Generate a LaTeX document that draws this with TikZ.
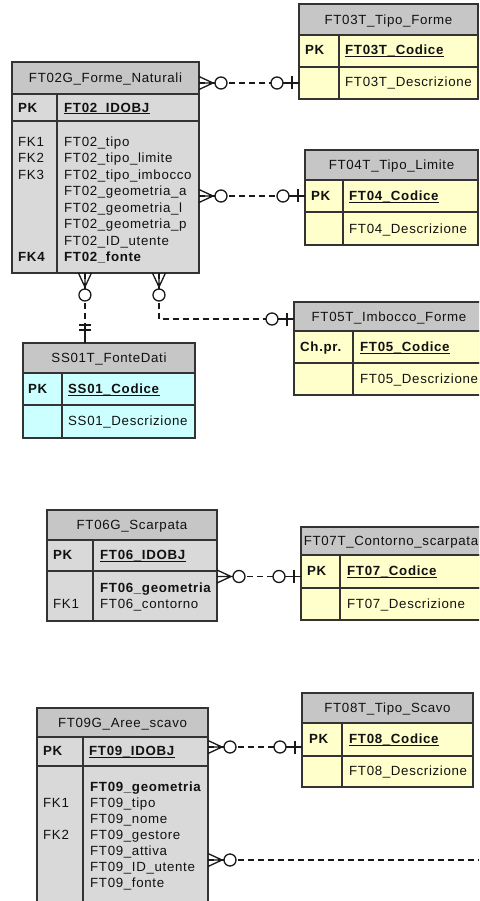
\documentclass[tikz,border=0pt]{standalone}
\usepackage{fontspec}
\setmainfont{Liberation Sans}[LetterSpace=5]
\usetikzlibrary{calc}
\definecolor{hdrgray}{HTML}{C6C6C6}
\definecolor{bodygray}{HTML}{D9D9D9}
\definecolor{lyellow}{HTML}{FFFFCC}
\definecolor{lcyan}{HTML}{CCFFFF}
\definecolor{ink}{HTML}{111111}
\definecolor{frameclr}{HTML}{333333}
\newcommand\ulbf[1]{\setbox0=\hbox{\textbf{#1}}\rlap{\rule[-2pt]{\wd0}{0.8pt}}\box0}
% name x1 y1 x2 y2(header bottom) y3(pk bottom) y4(bottom) xd(divider) fill
\newcommand\erframe[9]{%
  \node[cell, fill=hdrgray, minimum width={#4-#2}, minimum height={#5-#3}, anchor=north west] (#1h) at (#2,-#3) {};
  \node[cell, fill=#9, minimum width={#4-#2}, minimum height={#6-#5}, anchor=north west] (#1k) at (#2,-#5) {};
  \node[cell, fill=#9, minimum width={#4-#2}, minimum height={#7-#6}, anchor=north west] (#1b) at (#2,-#6) {};
  \draw[framel] (#8,-#5) -- (#8,-#7);
}
\tikzset{
  cell/.style={draw=frameclr, line width=1.3pt, inner sep=0pt, outer sep=0pt},
  framel/.style={draw=frameclr, line width=1.3pt},
  txt/.style={anchor=base west, inner sep=0pt, yshift=-4.6pt, text=ink},
  ttl/.style={anchor=base, inner sep=0pt, yshift=-4.6pt, text=ink},
  conn/.style={line width=1.3pt, draw=black!90, dash pattern=on 6pt off 4pt},
  crowo/.pic={\draw[solid, line width=1.3pt, black!90] (0,6.5)--(14,0)--(0,-6.5) (0,0)--(16,0);
              \draw[solid, line width=1.3pt, black!90, fill=white] (22,0) circle (6);},
  zeroone/.pic={\draw[solid, line width=1.3pt, black!90] (0,0)--(16,0) (7,6.5)--(7,-6.5);
              \draw[solid, line width=1.3pt, black!90, fill=white] (22,0) circle (6);},
  oneone/.pic={\draw[solid, line width=1.3pt, black!90] (0,0)--(20,0) (13,6)--(13,-6) (18,6)--(18,-6);},
}
\begin{document}
\begin{tikzpicture}[x=1pt, y=1pt, font=\fontsize{13.3}{16}\selectfont]
\useasboundingbox (0,0) rectangle (479,-901);
\clip (0,0) rectangle (479,-901);
\fill[white] (0,0) rectangle (479,-901);

% ---------- FT02 ----------
\erframe{ft02}{12}{62}{199}{94}{121}{273}{57}{bodygray}
\node[ttl] (ft02t) at (ft02h.center) {FT02G\_Forme\_Naturali};
\node[txt] (ft02pk) at (18,-107.5) {\textbf{PK}};
\node[txt] (ft02id) at (64,-107.5) {\ulbf{FT02\_IDOBJ}};
\foreach \t [count=\i from 0] in {FT02\_tipo, FT02\_tipo\_limite, FT02\_tipo\_imbocco, FT02\_geometria\_a, FT02\_geometria\_l, FT02\_geometria\_p, FT02\_ID\_utente, {\textbf{FT02\_fonte}}}
  {\node[txt] (ft02f\i) at (64,{-(142+16.4*\i)}) {\t};}
\node[txt] (ft02fk1) at (18,-142) {FK1};
\node[txt] (ft02fk2) at (18,-158.4) {FK2};
\node[txt] (ft02fk3) at (18,-174.8) {FK3};
\node[txt] (ft02fk4) at (18,-256.8) {\textbf{FK4}};

% ---------- FT03 ----------
\erframe{ft03}{299}{4}{478}{35}{67}{99}{339}{lyellow}
\node[ttl] (ft03t) at (ft03h.center) {FT03T\_Tipo\_Forme};
\node[txt] (ft03pk) at (305,-50) {\textbf{PK}};
\node[txt] (ft03id) at (345,-50) {\ulbf{FT03T\_Codice}};
\node[txt] (ft03d) at (345,-82) {FT03T\_Descrizione};

% ---------- FT04 ----------
\erframe{ft04}{305}{150}{478}{180}{212}{245}{343}{lyellow}
\node[ttl] (ft04t) at (ft04h.center) {FT04T\_Tipo\_Limite};
\node[txt] (ft04pk) at (311,-196) {\textbf{PK}};
\node[txt] (ft04id) at (349,-196) {\ulbf{FT04\_Codice}};
\node[txt] (ft04d) at (349,-229) {FT04\_Descrizione};

% ---------- FT05 ----------
\erframe{ft05}{294}{302}{484}{331}{363}{395}{353}{lyellow}
\node[ttl] (ft05t) at (ft05h.center) {FT05T\_Imbocco\_Forme};
\node[txt] (ft05pk) at (300,-347) {\textbf{Ch.pr.}};
\node[txt] (ft05id) at (360,-347) {\ulbf{FT05\_Codice}};
\node[txt] (ft05d) at (360,-379) {FT05\_Descrizione};

% ---------- SS01 ----------
\erframe{ss01}{23}{343}{195}{373}{405}{438}{62}{lcyan}
\node[ttl] (ss01t) at (ss01h.center) {SS01T\_FonteDati};
\node[txt] (ss01pk) at (28,-389) {\textbf{PK}};
\node[txt] (ss01id) at (68,-389) {\ulbf{SS01\_Codice}};
\node[txt] (ss01d) at (68,-421) {SS01\_Descrizione};

% ---------- FT06 ----------
\erframe{ft06}{47}{510}{217}{540}{571}{621}{93}{bodygray}
\node[ttl] (ft06t) at (ft06h.center) {FT06G\_Scarpata};
\node[txt] (ft06pk) at (53,-555) {\textbf{PK}};
\node[txt] (ft06id) at (100,-555) {\ulbf{FT06\_IDOBJ}};
\node[txt] (ft06g) at (100,-588) {\textbf{FT06\_geometria}};
\node[txt] (ft06c) at (100,-604) {FT06\_contorno};
\node[txt] (ft06fk1) at (53,-604) {FK1};

% ---------- FT07 ----------
\erframe{ft07}{301}{527}{482}{555}{588}{620}{340}{lyellow}
\node[ttl] (ft07t) at (391,-541) {FT07T\_Contorno\_scarpata};
\node[txt] (ft07pk) at (307,-571) {\textbf{PK}};
\node[txt] (ft07id) at (347,-571) {\ulbf{FT07\_Codice}};
\node[txt] (ft07d) at (347,-604) {FT07\_Descrizione};

% ---------- FT08 ----------
\erframe{ft08}{302}{693}{473}{723}{756}{787}{342}{lyellow}
\node[ttl] (ft08t) at (ft08h.center) {FT08T\_Tipo\_Scavo};
\node[txt] (ft08pk) at (309,-739) {\textbf{PK}};
\node[txt] (ft08id) at (349,-739) {\ulbf{FT08\_Codice}};
\node[txt] (ft08d) at (349,-771) {FT08\_Descrizione};

% ---------- FT09 ----------
\erframe{ft09}{37}{708}{208}{737}{766}{910}{83}{bodygray}
\node[ttl] (ft09t) at (ft09h.center) {FT09G\_Aree\_scavo};
\node[txt] (ft09pk) at (43,-751) {\textbf{PK}};
\node[txt] (ft09id) at (89,-751) {\ulbf{FT09\_IDOBJ}};
\foreach \t [count=\i from 0] in {{\textbf{FT09\_geometria}}, FT09\_tipo, FT09\_nome, FT09\_gestore, FT09\_attiva, FT09\_ID\_utente, FT09\_fonte}
  {\node[txt] (ft09f\i) at (90,{-(787+16*\i)}) {\t};}
\node[txt] (ft09fk1) at (43,-803) {FK1};
\node[txt] (ft09fk2) at (43,-835) {FK2};

% ---------- connectors ----------
% FT02 -> FT03
\draw[conn] (ft02h.east |- ft03b.west) -- (ft03b.west);
\pic at (ft02h.east |- ft03b.west) {crowo};
\pic[rotate=180] at (ft03b.west) {zeroone};
% FT02 -> FT04
\draw[conn] (ft02b.east |- ft04k.west) -- (ft04k.west);
\pic at (ft02b.east |- ft04k.west) {crowo};
\pic[rotate=180] at (ft04k.west) {zeroone};
% FT02 -> SS01
\coordinate (ft02s1) at ($(ft02b.south west)!0.39!(ft02b.south east)$);
\coordinate (ft02s2) at ($(ft02b.south west)!0.786!(ft02b.south east)$);
\draw[conn] (ft02s1) -- (ft02s1 |- ss01h.north);
\pic[rotate=-90] at (ft02s1) {crowo};
\pic[rotate=90] at (ft02s1 |- ss01h.north) {oneone};
% FT02 -> FT05
\coordinate (j4) at ($(ft02s2 |- ft05h.west)+(0,-2.5)$);
\coordinate (e4) at ($(ft05h.west)+(0,-2.5)$);
\draw[conn] (ft02s2) -- (j4) -- (e4);
\pic[rotate=-90] at (ft02s2) {crowo};
\pic[rotate=180] at (e4) {zeroone};
% FT06 -> FT07
\coordinate (e5) at ($(ft07k.west)+(0,-5)$);
\draw[conn] (ft06b.east |- e5) -- (e5);
\pic at (ft06b.east |- e5) {crowo};
\pic[rotate=180] at (e5) {zeroone};
% FT09 -> FT08
\coordinate (e6) at ($(ft08k.west)+(0,-7.5)$);
\draw[conn] (ft09k.east |- e6) -- (e6);
\pic at (ft09k.east |- e6) {crowo};
\pic[rotate=180] at (e6) {zeroone};
% FT09 -> off page
\coordinate (e7) at (479,-860);
\draw[conn] (ft09b.east |- e7) -- (e7);
\pic at (ft09b.east |- e7) {crowo};
\end{tikzpicture}
\end{document}
